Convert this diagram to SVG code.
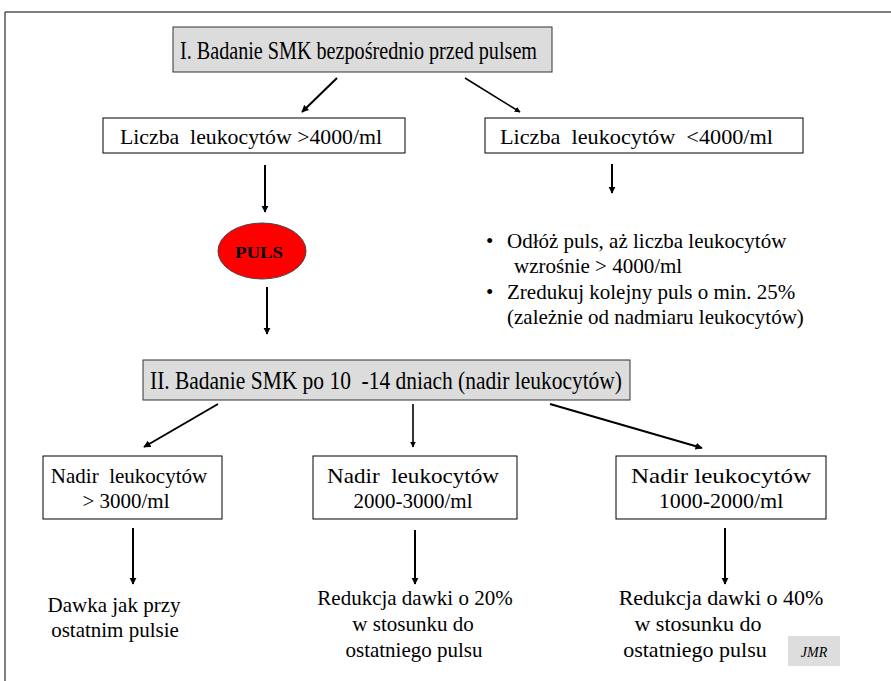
<svg xmlns="http://www.w3.org/2000/svg" width="891" height="681" viewBox="0 0 891 681">
<defs>
<marker id="ah" viewBox="0 0 10 10" refX="9" refY="5" markerWidth="3.6" markerHeight="3.6" orient="auto" markerUnits="strokeWidth">
<path d="M0,0 L10,5 L0,10 z" fill="#000"/>
</marker>
<style>
.t{font-family:"Liberation Serif","Times New Roman",serif;fill:#000;white-space:pre;font-size:21px}
.box{fill:#fff;stroke:#000;stroke-width:1}
.gbox{fill:#dcdcdc;stroke:#333;stroke-width:1}
.c{stroke:#000;stroke-width:2;fill:none;marker-end:url(#ah)}
.c1{stroke:#000;stroke-width:1.6;fill:none;marker-end:url(#ah)}
</style>
</defs>
<rect width="891" height="681" fill="#fff"/>
<path d="M5,681 L5,12 L891,12" fill="none" stroke="#000" stroke-width="1"/>
<g id="n1"><rect class="gbox" x="173" y="27" width="379" height="45"/><text class="t" x="180" y="59" style="font-size:25px" textLength="357" lengthAdjust="spacingAndGlyphs">I. Badanie SMK bezpośrednio przed pulsem</text></g>
<g id="n2"><rect class="box" x="103" y="118" width="302" height="35"/><text class="t" x="120" y="144" textLength="262" lengthAdjust="spacingAndGlyphs">Liczba  leukocytów &gt;4000/ml</text></g>
<g id="n3"><rect class="box" x="485" y="118" width="318" height="35"/><text class="t" x="500" y="144" textLength="273" lengthAdjust="spacingAndGlyphs">Liczba  leukocytów  &lt;4000/ml</text></g>
<g id="n4"><ellipse cx="262" cy="251" rx="44" ry="28" fill="#f00" stroke="#444" stroke-width="1"/><text class="t" x="235" y="258" style="font-size:17px;font-weight:bold" textLength="48" lengthAdjust="spacingAndGlyphs">PULS</text></g>
<g id="n5"><text class="t"><tspan x="486" y="248">•</tspan><tspan x="507" y="248">Odłóż puls, aż liczba leukocytów</tspan><tspan x="514" y="273">wzrośnie &gt; 4000/ml</tspan><tspan x="486" y="299">•</tspan><tspan x="507" y="299">Zredukuj kolejny puls o min. 25%</tspan><tspan x="507" y="324">(zależnie od nadmiaru leukocytów)</tspan></text></g>
<g id="n6"><rect class="gbox" x="143" y="360" width="487" height="40"/><text class="t" x="150" y="389" style="font-size:25px" textLength="472" lengthAdjust="spacingAndGlyphs">II. Badanie SMK po 10  -14 dniach (nadir leukocytów)</text></g>
<g id="n7"><rect class="box" x="43" y="456" width="179" height="63"/><text class="t" text-anchor="middle"><tspan x="129" y="483">Nadir  leukocytów</tspan><tspan x="126" y="508">&gt; 3000/ml</tspan></text></g>
<g id="n8"><rect class="box" x="313" y="456" width="204" height="63"/><text class="t" text-anchor="middle"><tspan x="413" y="483" textLength="172" lengthAdjust="spacingAndGlyphs">Nadir  leukocytów</tspan><tspan x="413" y="508">2000-3000/ml</tspan></text></g>
<g id="n9"><rect class="box" x="616" y="456" width="210" height="63"/><text class="t" text-anchor="middle" style="font-size:22px"><tspan x="721" y="483" textLength="180" lengthAdjust="spacingAndGlyphs">Nadir leukocytów</tspan><tspan x="721" y="508">1000-2000/ml</tspan></text></g>
<g id="n10"><text class="t" text-anchor="middle"><tspan x="114" y="612">Dawka jak przy</tspan><tspan x="115" y="637">ostatnim pulsie</tspan></text></g>
<g id="n11"><text class="t" text-anchor="middle"><tspan x="415" y="605">Redukcja dawki o 20%</tspan><tspan x="413" y="631">w stosunku do</tspan><tspan x="414" y="657">ostatniego pulsu</tspan></text></g>
<g id="n12"><text class="t" text-anchor="middle" style="font-size:22px"><tspan x="721" y="605">Redukcja dawki o 40%</tspan><tspan x="698" y="631">w stosunku do</tspan><tspan x="695" y="657">ostatniego pulsu</tspan></text></g>
<g id="n13"><rect x="788" y="636" width="52" height="30" fill="#ddd"/><text class="t" x="814" y="657" style="font-size:14px;font-style:italic" text-anchor="middle">JMR</text></g>
<g id="connectors">
<line class="c" x1="337" y1="78" x2="302" y2="112"/>
<line class="c1" x1="465" y1="78" x2="520" y2="112"/>
<line class="c" x1="265" y1="165" x2="265" y2="212"/>
<line class="c" x1="612" y1="164" x2="612" y2="193"/>
<line class="c" x1="267" y1="287" x2="267" y2="334"/>
<line class="c" x1="218" y1="404" x2="144" y2="447"/>
<line class="c1" x1="413" y1="404" x2="413" y2="447"/>
<line class="c" x1="550" y1="404" x2="702" y2="448"/>
<line class="c" x1="133" y1="528" x2="133" y2="584"/>
<line class="c" x1="415" y1="530" x2="415" y2="584"/>
<line class="c" x1="725" y1="528" x2="725" y2="584"/>
</g>
</svg>
